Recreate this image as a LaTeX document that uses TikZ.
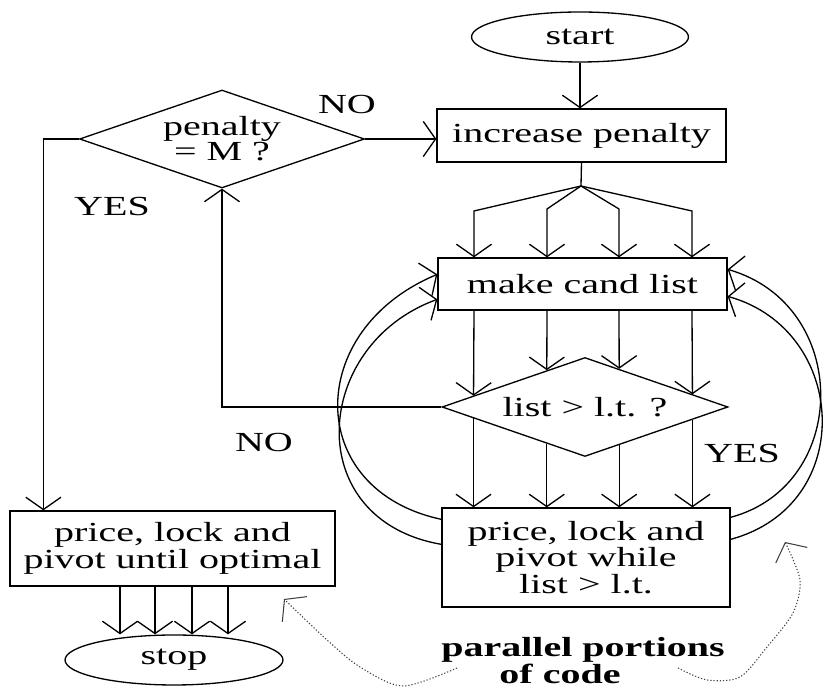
\documentclass[tikz,border=0pt]{standalone}
\usepackage{fontspec}
\setmainfont{Liberation Serif}[FakeStretch=1.45]
\usetikzlibrary{shapes.geometric,arrows.meta,calc}
\begin{document}
\begin{tikzpicture}[x=0.02cm,y=-0.02cm,
  line width=0.75pt,
  every node/.style={font=\fontsize{15.7}{14.2}\selectfont},
  barb/.style={-{Straight Barb[length=7pt,width=20pt]}},
  boxnode/.style={draw, rectangle, inner sep=2pt, align=center},
  decision/.style={draw, diamond, aspect=2.9, inner sep=0pt, align=center},
  terminal/.style={draw, ellipse, inner sep=0pt},
  dotline/.style={line width=0.6pt, black!75, dash pattern=on 0.7pt off 1.1pt,
    -{Straight Barb[length=8pt,width=20pt]}},
  lbl/.style={inner sep=0pt},
  boldlbl/.style={inner sep=0pt, font=\fontsize{15.7}{14.2}\selectfont\bfseries}
]
\useasboundingbox (0,0) rectangle (823,688);

% nodes
\node[terminal, minimum width=4.34cm, minimum height=1cm] (start) at (580,37) {start};
\node[boxnode, minimum width=5.78cm, minimum height=1.06cm] (inc) at (581.5,135.5) {increase penalty};
\node[decision, minimum width=5.7cm, minimum height=1.96cm] (pen) at (222,139) {penalty\\= M ?};
\node[boxnode, minimum width=5.78cm, minimum height=1.04cm] (make) at (582.5,284) {make cand list};
\node[decision, minimum width=5.72cm, minimum height=1.98cm] (lt) at (585,407) {list > l.t. ?};
\node[boxnode, minimum width=5.76cm, minimum height=1.98cm] (pw) at (586,557.5) {price, lock and\\pivot while\\list > l.t.};
\node[boxnode, minimum width=6.5cm, minimum height=1.5cm] (pu) at (172.5,548.5) {price, lock and\\pivot until optimal};
\node[terminal, minimum width=4.36cm, minimum height=1cm] (stop) at (174,660) {stop};

% labels
\node[lbl] (no1) at (347,105) {NO};
\node[lbl] (yes1) at (112,207) {YES};
\node[lbl] (no2) at (264,443) {NO};
\node[lbl] (yes2) at (742,454) {YES};
\node[boldlbl] (par1) at (583,650) {parallel portions};
\node[boldlbl] (par2) at (560,674) {of code};

% main flow
\draw[barb] (start.south) -- (start.south |- inc.north);
\draw[barb] (pen.east) -- (pen.east -| inc.west);
\draw[barb] (pen.west) -| ([xshift=0.68cm]pu.north west);
\draw[barb] (lt.west) -| (pen.south);

% fork from increase penalty
\coordinate (fork) at (581,186);
\coordinate (k1) at (474,211);
\coordinate (k2) at (547,209);
\coordinate (k3) at (619,209);
\coordinate (k4) at (692,211);
\draw (inc.south) -- (fork);
\foreach \k in {k1,k2,k3,k4}{
  \draw[barb] (fork) -- (\k) -- (\k |- make.north);
}

% make cand list -> list diamond
\draw[barb] (k1 |- make.south) -- ($(lt.west)!0.224!(lt.north)$);
\draw[barb] (k2 |- make.south) -- ($(lt.west)!0.734!(lt.north)$);
\draw[barb] (k3 |- make.south) -- ($(lt.north)!0.238!(lt.east)$);
\draw[barb] (k4 |- make.south) -- ($(lt.north)!0.748!(lt.east)$);

% list diamond -> price while
\coordinate (b1) at ($(lt.west)!0.224!(lt.south)$);
\coordinate (b2) at ($(lt.west)!0.734!(lt.south)$);
\coordinate (b3) at ($(lt.south)!0.238!(lt.east)$);
\coordinate (b4) at ($(lt.south)!0.748!(lt.east)$);
\foreach \b in {b1,b2,b3,b4}{
  \draw[barb] (\b) -- (\b |- pw.north);
}

% price until optimal -> stop
\foreach \x [count=\i] in {120,155,192,228}{
  \coordinate (s\i) at (\x,0);
  \draw[barb] (s\i |- pu.south) -- (s\i |- stop.north);
}

% loops back to make cand list
\draw[barb] ($(pw.north west)+(0,12)$) .. controls (304,490) and (304,330) .. ($(make.north west)+(0,17)$);
\draw[barb] ($(pw.north west)+(0,37)$) .. controls (300,520) and (312,345) .. ($(make.north west)+(0,42)$);
\draw[barb] ($(pw.north east)+(0,10)$) .. controls (851,485) and (851,305) .. ($(make.north east)+(0,12)$);
\draw[barb] ($(pw.north east)+(0,32)$) .. controls (858,505) and (848,330) .. ($(make.north east)+(0,39)$);

% dotted pointers
\draw[dotline] plot[smooth] coordinates {(457,668) (403,686) (360,667) (327,640) (284,599)};
\draw[dotline] plot[smooth] coordinates {(678,668) (707,680) (740,677) (767,647) (793,613) (800,580) (785,542)};
\end{tikzpicture}
\end{document}
